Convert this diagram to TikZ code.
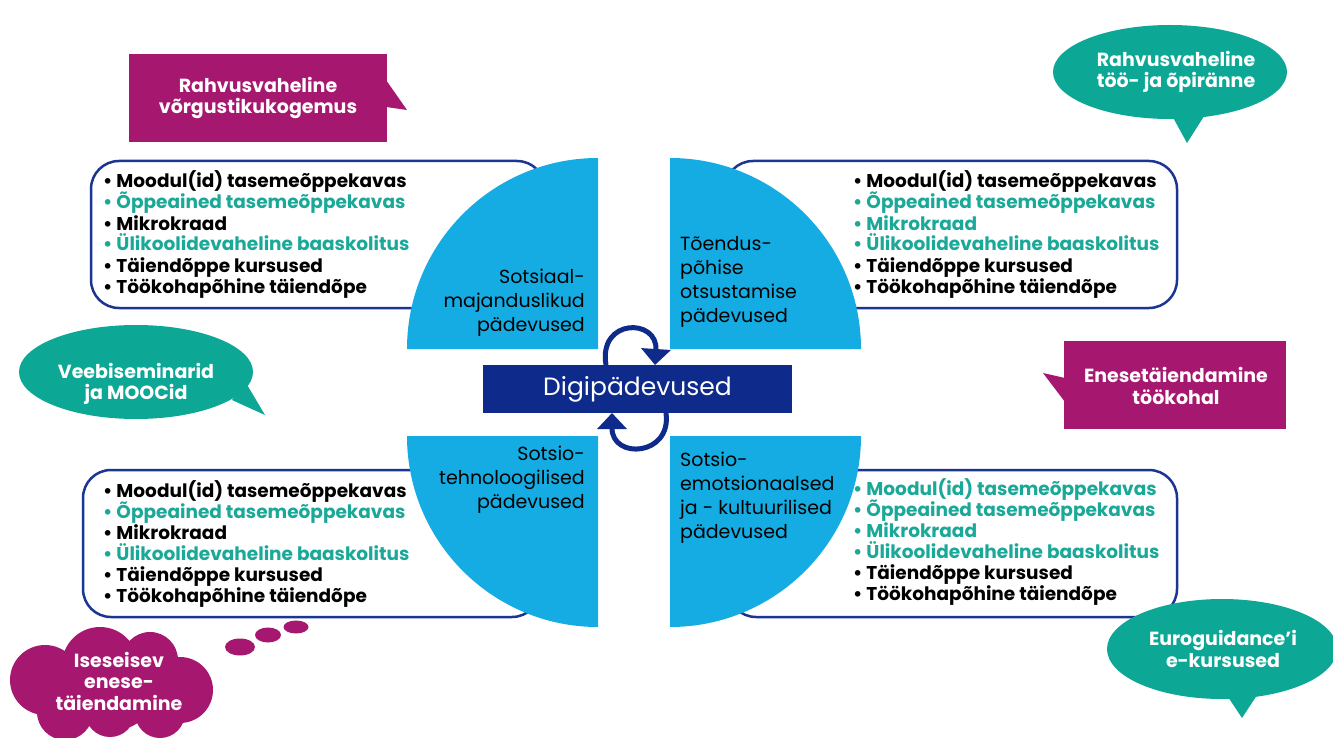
\documentclass[tikz,border=0pt]{standalone}
\usepackage{fontspec}
\setmainfont{Poppins}
\usetikzlibrary{arrows.meta}
\definecolor{qblue}{HTML}{14ACE3}
\definecolor{dblue}{HTML}{0E2B8C}
\definecolor{bblue}{HTML}{1B3592}
\definecolor{mag}{HTML}{A6176F}
\definecolor{tealbg}{HTML}{0DA895}
\definecolor{tealtx}{HTML}{1AA898}
\tikzset{
  listbox/.style={draw=bblue, line width=2.5pt, fill=white, rounded corners=28pt},
  quarter/.style={fill=qblue},
  item/.style={anchor=base west, inner sep=0pt, font=\bfseries\fontsize{18.5}{21}\selectfont},
  qtext/.style={inner sep=0pt, font=\fontsize{19}{24}\selectfont},
  ctext/.style={inner sep=0pt, align=center, text=white, font=\bfseries\fontsize{19}{21.5}\selectfont},
  cyc/.style={draw=dblue, line width=5pt, -{Triangle[width=29pt,length=16pt]}},
}
\begin{document}
\begin{tikzpicture}[x=1pt,y=1pt]
\useasboundingbox (0,0) rectangle (1333,-738);
\fill[white] (0,0) rectangle (1333,-738);

% list boxes
\draw[listbox] (91,-161) rectangle (545,-308);
\draw[listbox] (725,-161) rectangle (1177,-308);
\draw[listbox] (83,-470) rectangle (540,-617);
\draw[listbox] (728,-470) rectangle (1177,-617);

% quarter circles
\fill[quarter] (598,-349) -- (407,-349) arc[start angle=180,end angle=90,radius=191pt] -- cycle;
\fill[quarter] (670,-349) -- (670,-158) arc[start angle=90,end angle=0,radius=191pt] -- cycle;
\fill[quarter] (598,-436) -- (407,-436) arc[start angle=180,end angle=270,radius=191pt] -- cycle;
\fill[quarter] (670,-436) -- (861,-436) arc[start angle=0,end angle=-90,radius=191pt] -- cycle;

\node[qtext, anchor=east, align=right] (q1) at (585,-303) {Sotsiaal-\\majanduslikud\\pädevused};
\node[qtext, anchor=west, align=left] (q2) at (680,-282) {Tõendus-\\põhise\\otsustamise\\pädevused};
\node[qtext, anchor=east, align=right] (q3) at (585,-480) {Sotsio-\\tehnoloogilised\\pädevused};
\node[qtext, anchor=west, align=left] (q4) at (680,-498) {Sotsio-\\emotsionaalsed\\ja - kultuurilised\\pädevused};

% lists
\foreach \t/\c [count=\i] in {Moodul(id) tasemeõppekavas/black, Õppeained tasemeõppekavas/tealtx, Mikrokraad/black, Ülikoolidevaheline baaskolitus/tealtx, Täiendõppe kursused/black, Töökohapõhine täiendõpe/black}
  \node[item, text=\c] (tl\i) at (103,{-167-21*\i}) {\textbullet\hspace{4pt}\t};
\foreach \t/\c [count=\i] in {Moodul(id) tasemeõppekavas/black, Õppeained tasemeõppekavas/tealtx, Mikrokraad/tealtx, Ülikoolidevaheline baaskolitus/tealtx, Täiendõppe kursused/black, Töökohapõhine täiendõpe/black}
  \node[item, text=\c] (tr\i) at (853,{-167-21*\i}) {\textbullet\hspace{4pt}\t};
\foreach \t/\c [count=\i] in {Moodul(id) tasemeõppekavas/black, Õppeained tasemeõppekavas/tealtx, Mikrokraad/black, Ülikoolidevaheline baaskolitus/tealtx, Täiendõppe kursused/black, Töökohapõhine täiendõpe/black}
  \node[item, text=\c] (bl\i) at (103,{-476-21*\i}) {\textbullet\hspace{4pt}\t};
\foreach \t/\c [count=\i] in {Moodul(id) tasemeõppekavas/tealtx, Õppeained tasemeõppekavas/tealtx, Mikrokraad/tealtx, Ülikoolidevaheline baaskolitus/tealtx, Täiendõppe kursused/black, Töökohapõhine täiendõpe/black}
  \node[item, text=\c] (br\i) at (853,{-474-21*\i}) {\textbullet\hspace{4pt}\t};

% central box
\node[fill=dblue, minimum width=309pt, minimum height=48pt, inner sep=0pt, text=white,
  font=\fontsize{25}{28}\selectfont] (digi) at (637.5,-389) {Digipädevused};
\coordinate (a1s) at (606,-365);
\coordinate (a1e) at (655,-365);
\coordinate (a2s) at (666,-413);
\coordinate (a2e) at (612,-413);
\draw[cyc] (a1s) .. controls (598,-318) and (658,-318) .. (a1e);
\draw[cyc] (a2s) .. controls (672,-456) and (612,-460) .. (a2e);

% callout 1
\fill[mag] (129,-54) rectangle (387,-142);
\fill[mag] (386,-80) -- (407,-110) -- (386,-107) -- cycle;
\node[ctext] (c1) at (258,-98) {Rahvusvaheline\\võrgustikukogemus};

% callout 2
\fill[tealbg] (1170,-72) ellipse[x radius=117pt, y radius=47pt];
\fill[tealbg] (1170,-112) -- (1187,-143) -- (1208,-110) -- cycle;
\node[ctext] (c2) at (1176,-72) {Rahvusvaheline\\töö- ja õpiränne};

% callout 3
\fill[tealbg] (136,-372) ellipse[x radius=117pt, y radius=47pt];
\fill[tealbg] (232,-400) -- (265,-415) -- (246,-383) -- cycle;
\node[ctext] (c3) at (136,-384) {Veebiseminarid\\ja MOOCid};

% callout 4
\fill[mag] (1064,-341) rectangle (1286,-429);
\fill[mag] (1065,-378) -- (1043,-373) -- (1065,-402) -- cycle;
\node[ctext] (c4) at (1176,-386) {Enesetäiendamine\\töökohal};

% callout 5
\fill[tealbg] (1222,-649) ellipse[x radius=115pt, y radius=50pt];
\fill[tealbg] (1226,-694) -- (1242,-718) -- (1259,-692) -- cycle;
\node[ctext] (c5) at (1223,-649) {Euroguidance’i\\e-kursused};

% cloud
\fill[mag] (100,-665) circle[radius=38pt] (150,-660) circle[radius=28pt]
  (180,-690) circle[radius=33pt] (45,-680) circle[radius=35pt]
  (65,-712) circle[radius=28pt] (110,-712) circle[radius=25pt]
  (160,-713) circle[radius=25pt] (115,-690) circle[radius=40pt];
\fill[mag] (240,-647) ellipse[x radius=15pt, y radius=8.5pt];
\fill[mag] (268,-635) ellipse[x radius=13pt, y radius=7.5pt];
\fill[mag] (296,-627) ellipse[x radius=12.5pt, y radius=6.5pt];
\node[ctext] (c6) at (119,-681) {Iseseisev\\enese-\\täiendamine};
\end{tikzpicture}
\end{document}
